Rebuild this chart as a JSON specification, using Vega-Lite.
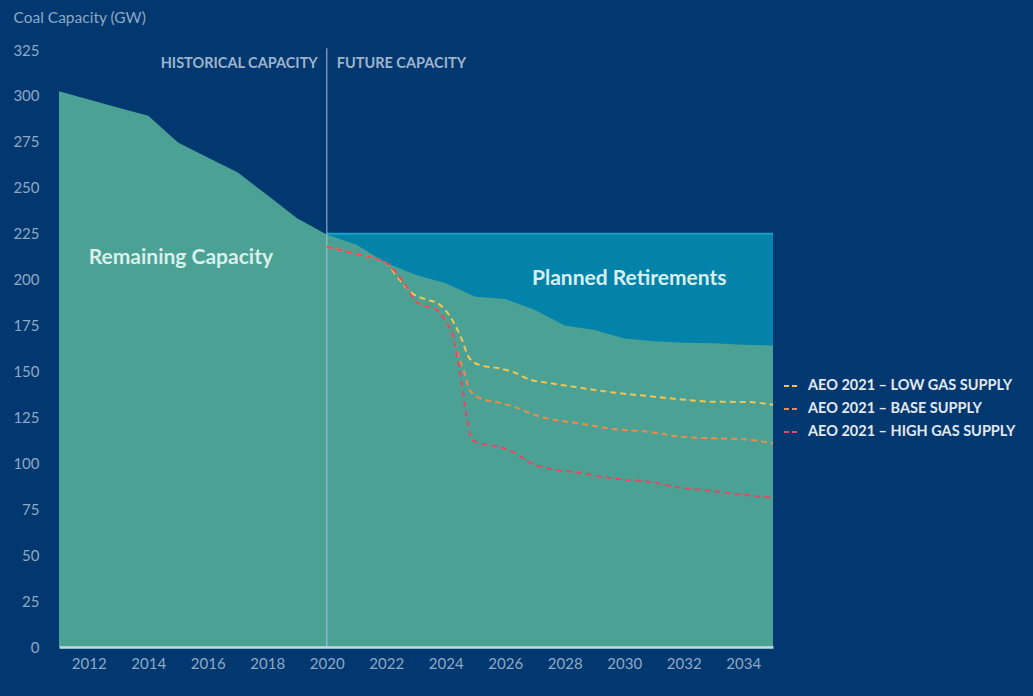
{
  "$schema": "https://vega.github.io/schema/vega-lite/v6.json",
  "width": 714,
  "height": 597,
  "autosize": {"type": "none"},
  "padding": {"left": 59, "top": 50, "right": 260, "bottom": 49},
  "background": "#01386f",
  "config": {
    "view": {"stroke": null},
    "font": "Lato",
    "axis": {"labelFont": "Lato", "labelColor": "#8fa8c6", "labelFontSize": 15, "grid": false, "ticks": false}
  },
  "datasets": {
    "cap": [
      {"year": 2011, "remaining": 302.5}, {"year": 2012, "remaining": 298.1}, {"year": 2013, "remaining": 293.6},
      {"year": 2014, "remaining": 289.2}, {"year": 2015, "remaining": 274.7}, {"year": 2016, "remaining": 266.5},
      {"year": 2017, "remaining": 258.4}, {"year": 2018, "remaining": 246.0}, {"year": 2019, "remaining": 233.4},
      {"year": 2020, "remaining": 224.5}, {"year": 2021, "remaining": 219.0}, {"year": 2022, "remaining": 209.0},
      {"year": 2023, "remaining": 202.5}, {"year": 2024, "remaining": 198.0}, {"year": 2025, "remaining": 190.7},
      {"year": 2026, "remaining": 189.4}, {"year": 2027, "remaining": 183.4}, {"year": 2028, "remaining": 175.0},
      {"year": 2029, "remaining": 172.6}, {"year": 2030, "remaining": 168.0}, {"year": 2031, "remaining": 166.5},
      {"year": 2032, "remaining": 165.6}, {"year": 2033, "remaining": 165.3}, {"year": 2034, "remaining": 164.5},
      {"year": 2035, "remaining": 164.2}
    ],
    "ret": [{"year": 2020, "total": 225}, {"year": 2035, "total": 225}],
    "divider": [{"year": 2020, "bottom": 0, "top": 326}],
    "scen": [
      {"scenario": "AEO 2021 – LOW GAS SUPPLY", "year": 2020, "gw": 217.9},
      {"scenario": "AEO 2021 – LOW GAS SUPPLY", "year": 2021, "gw": 213.9},
      {"scenario": "AEO 2021 – LOW GAS SUPPLY", "year": 2021.7, "gw": 211},
      {"scenario": "AEO 2021 – LOW GAS SUPPLY", "year": 2022, "gw": 208.9},
      {"scenario": "AEO 2021 – LOW GAS SUPPLY", "year": 2022.4, "gw": 201},
      {"scenario": "AEO 2021 – LOW GAS SUPPLY", "year": 2022.8, "gw": 193.4},
      {"scenario": "AEO 2021 – LOW GAS SUPPLY", "year": 2023.4, "gw": 188.9},
      {"scenario": "AEO 2021 – LOW GAS SUPPLY", "year": 2023.75, "gw": 187},
      {"scenario": "AEO 2021 – LOW GAS SUPPLY", "year": 2024.15, "gw": 179.8},
      {"scenario": "AEO 2021 – LOW GAS SUPPLY", "year": 2024.5, "gw": 169},
      {"scenario": "AEO 2021 – LOW GAS SUPPLY", "year": 2024.8, "gw": 157.1},
      {"scenario": "AEO 2021 – LOW GAS SUPPLY", "year": 2025.15, "gw": 153.5},
      {"scenario": "AEO 2021 – LOW GAS SUPPLY", "year": 2025.8, "gw": 151.7},
      {"scenario": "AEO 2021 – LOW GAS SUPPLY", "year": 2026.3, "gw": 149.5},
      {"scenario": "AEO 2021 – LOW GAS SUPPLY", "year": 2026.8, "gw": 145.7},
      {"scenario": "AEO 2021 – LOW GAS SUPPLY", "year": 2027.4, "gw": 143.9},
      {"scenario": "AEO 2021 – LOW GAS SUPPLY", "year": 2028.5, "gw": 141.2},
      {"scenario": "AEO 2021 – LOW GAS SUPPLY", "year": 2029.6, "gw": 138.6},
      {"scenario": "AEO 2021 – LOW GAS SUPPLY", "year": 2030.8, "gw": 136.6},
      {"scenario": "AEO 2021 – LOW GAS SUPPLY", "year": 2031.9, "gw": 134.8},
      {"scenario": "AEO 2021 – LOW GAS SUPPLY", "year": 2033, "gw": 133.5},
      {"scenario": "AEO 2021 – LOW GAS SUPPLY", "year": 2034.1, "gw": 133.4},
      {"scenario": "AEO 2021 – LOW GAS SUPPLY", "year": 2035, "gw": 131.9},
      {"scenario": "AEO 2021 – BASE SUPPLY", "year": 2020, "gw": 217.9},
      {"scenario": "AEO 2021 – BASE SUPPLY", "year": 2021, "gw": 213.9},
      {"scenario": "AEO 2021 – BASE SUPPLY", "year": 2021.7, "gw": 211},
      {"scenario": "AEO 2021 – BASE SUPPLY", "year": 2022, "gw": 208.9},
      {"scenario": "AEO 2021 – BASE SUPPLY", "year": 2022.6, "gw": 198},
      {"scenario": "AEO 2021 – BASE SUPPLY", "year": 2023, "gw": 188},
      {"scenario": "AEO 2021 – BASE SUPPLY", "year": 2023.4, "gw": 185.3},
      {"scenario": "AEO 2021 – BASE SUPPLY", "year": 2023.7, "gw": 183.5},
      {"scenario": "AEO 2021 – BASE SUPPLY", "year": 2024, "gw": 177.5},
      {"scenario": "AEO 2021 – BASE SUPPLY", "year": 2024.2, "gw": 171},
      {"scenario": "AEO 2021 – BASE SUPPLY", "year": 2024.4, "gw": 159.9},
      {"scenario": "AEO 2021 – BASE SUPPLY", "year": 2024.6, "gw": 150.8},
      {"scenario": "AEO 2021 – BASE SUPPLY", "year": 2024.8, "gw": 139.9},
      {"scenario": "AEO 2021 – BASE SUPPLY", "year": 2025.15, "gw": 135.4},
      {"scenario": "AEO 2021 – BASE SUPPLY", "year": 2025.8, "gw": 133},
      {"scenario": "AEO 2021 – BASE SUPPLY", "year": 2026.3, "gw": 130.8},
      {"scenario": "AEO 2021 – BASE SUPPLY", "year": 2027, "gw": 126.3},
      {"scenario": "AEO 2021 – BASE SUPPLY", "year": 2027.4, "gw": 124.5},
      {"scenario": "AEO 2021 – BASE SUPPLY", "year": 2028.5, "gw": 121.8},
      {"scenario": "AEO 2021 – BASE SUPPLY", "year": 2029.6, "gw": 118.7},
      {"scenario": "AEO 2021 – BASE SUPPLY", "year": 2030.8, "gw": 117.2},
      {"scenario": "AEO 2021 – BASE SUPPLY", "year": 2031.9, "gw": 114.5},
      {"scenario": "AEO 2021 – BASE SUPPLY", "year": 2033, "gw": 113.6},
      {"scenario": "AEO 2021 – BASE SUPPLY", "year": 2033.9, "gw": 113.2},
      {"scenario": "AEO 2021 – BASE SUPPLY", "year": 2035, "gw": 110.9},
      {"scenario": "AEO 2021 – HIGH GAS SUPPLY", "year": 2020, "gw": 217.9},
      {"scenario": "AEO 2021 – HIGH GAS SUPPLY", "year": 2021, "gw": 213.9},
      {"scenario": "AEO 2021 – HIGH GAS SUPPLY", "year": 2021.7, "gw": 211},
      {"scenario": "AEO 2021 – HIGH GAS SUPPLY", "year": 2022, "gw": 208.9},
      {"scenario": "AEO 2021 – HIGH GAS SUPPLY", "year": 2022.6, "gw": 198},
      {"scenario": "AEO 2021 – HIGH GAS SUPPLY", "year": 2023, "gw": 188},
      {"scenario": "AEO 2021 – HIGH GAS SUPPLY", "year": 2023.4, "gw": 185.3},
      {"scenario": "AEO 2021 – HIGH GAS SUPPLY", "year": 2023.7, "gw": 183.5},
      {"scenario": "AEO 2021 – HIGH GAS SUPPLY", "year": 2024, "gw": 177.1},
      {"scenario": "AEO 2021 – HIGH GAS SUPPLY", "year": 2024.25, "gw": 169},
      {"scenario": "AEO 2021 – HIGH GAS SUPPLY", "year": 2024.5, "gw": 147},
      {"scenario": "AEO 2021 – HIGH GAS SUPPLY", "year": 2024.7, "gw": 125.4},
      {"scenario": "AEO 2021 – HIGH GAS SUPPLY", "year": 2024.9, "gw": 112.7},
      {"scenario": "AEO 2021 – HIGH GAS SUPPLY", "year": 2025.4, "gw": 110},
      {"scenario": "AEO 2021 – HIGH GAS SUPPLY", "year": 2025.8, "gw": 109},
      {"scenario": "AEO 2021 – HIGH GAS SUPPLY", "year": 2026.3, "gw": 105.8},
      {"scenario": "AEO 2021 – HIGH GAS SUPPLY", "year": 2027, "gw": 99.1},
      {"scenario": "AEO 2021 – HIGH GAS SUPPLY", "year": 2027.4, "gw": 97.3},
      {"scenario": "AEO 2021 – HIGH GAS SUPPLY", "year": 2028.5, "gw": 94.9},
      {"scenario": "AEO 2021 – HIGH GAS SUPPLY", "year": 2029.6, "gw": 91.8},
      {"scenario": "AEO 2021 – HIGH GAS SUPPLY", "year": 2030.8, "gw": 90},
      {"scenario": "AEO 2021 – HIGH GAS SUPPLY", "year": 2031.9, "gw": 86.7},
      {"scenario": "AEO 2021 – HIGH GAS SUPPLY", "year": 2033, "gw": 84.9},
      {"scenario": "AEO 2021 – HIGH GAS SUPPLY", "year": 2034.1, "gw": 82.7},
      {"scenario": "AEO 2021 – HIGH GAS SUPPLY", "year": 2035, "gw": 81.3}
    ],
    "headerLeft": [{"year": 2020, "gw": 317.4, "label": "HISTORICAL CAPACITY"}],
    "headerRight": [{"year": 2020, "gw": 317.4, "label": "FUTURE CAPACITY"}],
    "areaLabels": [
      {"year": 2012, "gw": 211.8, "label": "Remaining Capacity"},
      {"year": 2026.9, "gw": 200.3, "label": "Planned Retirements"}
    ]
  },
  "layer": [
    {
      "data": {"name": "ret"},
      "mark": {"type": "area", "color": "#0383a9", "opacity": 1, "line": {"color": "#17a2c4", "strokeWidth": 2}},
      "encoding": {
        "x": {"field": "year", "type": "quantitative", "scale": {"domain": [2011, 2035], "nice": false, "zero": false},
              "axis": {"values": [2012, 2014, 2016, 2018, 2020, 2022, 2024, 2026, 2028, 2030, 2032, 2034], "format": "d", "title": null,
                       "domainColor": "#c5dbe0", "domainWidth": 2.5, "labelPadding": 9, "zindex": 1, "labelFlush": false}},
        "y": {"field": "total", "type": "quantitative", "scale": {"domain": [0, 325], "nice": false},
              "axis": {"values": [0, 25, 50, 75, 100, 125, 150, 175, 200, 225, 250, 275, 300, 325], "domain": false, "labelPadding": 20,
                       "title": "Coal Capacity (GW)", "titleAngle": 0, "titleAlign": "left", "titleBaseline": "middle",
                       "titleX": -46, "titleY": -33, "titleColor": "#8fa8c6", "titleFont": "Lato", "titleFontSize": 15.5, "titleFontWeight": "normal"}}
      }
    },
    {
      "data": {"name": "cap"},
      "mark": {"type": "area", "color": "#4ba294", "opacity": 1},
      "encoding": {
        "x": {"field": "year", "type": "quantitative"},
        "y": {"field": "remaining", "type": "quantitative"}
      }
    },
    {
      "data": {"name": "divider"},
      "mark": {"type": "rule", "color": "#a9c3da", "opacity": 0.65, "strokeWidth": 1.5},
      "encoding": {
        "x": {"field": "year", "type": "quantitative"},
        "y": {"field": "bottom", "type": "quantitative"},
        "y2": {"field": "top"}
      }
    },
    {
      "data": {"name": "scen"},
      "transform": [{"filter": "datum.scenario === 'AEO 2021 – LOW GAS SUPPLY'"}],
      "mark": {"type": "line", "interpolate": "monotone", "strokeWidth": 2, "strokeDash": [6, 4]},
      "encoding": {
        "x": {"field": "year", "type": "quantitative"},
        "y": {"field": "gw", "type": "quantitative"},
        "color": {"field": "scenario", "type": "nominal",
                  "scale": {"domain": ["AEO 2021 – LOW GAS SUPPLY", "AEO 2021 – BASE SUPPLY", "AEO 2021 – HIGH GAS SUPPLY"],
                            "range": ["#f6c44f", "#ef8a4a", "#e04a63"]},
                  "legend": {"orient": "none", "legendX": 724, "legendY": 328, "title": null, "symbolType": "stroke",
                             "symbolStrokeWidth": 2, "symbolDash": [5, 3], "symbolSize": 196, "labelFont": "Lato",
                             "labelFontSize": 14.5, "labelFontWeight": "bold", "labelLimit": 400, "labelColor": "#e3e8ef", "labelOffset": 9, "rowPadding": 8}}
      }
    },
    {
      "data": {"name": "scen"},
      "transform": [{"filter": "datum.scenario === 'AEO 2021 – BASE SUPPLY'"}],
      "mark": {"type": "line", "interpolate": "monotone", "strokeWidth": 2, "strokeDash": [6, 4]},
      "encoding": {
        "x": {"field": "year", "type": "quantitative"},
        "y": {"field": "gw", "type": "quantitative"},
        "color": {"field": "scenario", "type": "nominal"}
      }
    },
    {
      "data": {"name": "scen"},
      "transform": [{"filter": "datum.scenario === 'AEO 2021 – HIGH GAS SUPPLY'"}],
      "mark": {"type": "line", "interpolate": "monotone", "strokeWidth": 2, "strokeDash": [6, 4]},
      "encoding": {
        "x": {"field": "year", "type": "quantitative"},
        "y": {"field": "gw", "type": "quantitative"},
        "color": {"field": "scenario", "type": "nominal"}
      }
    },
    {
      "data": {"name": "headerLeft"},
      "mark": {"type": "text", "align": "right", "baseline": "middle", "dx": -9, "font": "Lato", "fontSize": 14.5, "fontWeight": "bold", "color": "#9fb4cc"},
      "encoding": {
        "x": {"field": "year", "type": "quantitative"},
        "y": {"field": "gw", "type": "quantitative"},
        "text": {"field": "label"}
      }
    },
    {
      "data": {"name": "headerRight"},
      "mark": {"type": "text", "align": "left", "baseline": "middle", "dx": 10, "font": "Lato", "fontSize": 14.5, "fontWeight": "bold", "color": "#9fb4cc"},
      "encoding": {
        "x": {"field": "year", "type": "quantitative"},
        "y": {"field": "gw", "type": "quantitative"},
        "text": {"field": "label"}
      }
    },
    {
      "data": {"name": "areaLabels"},
      "mark": {"type": "text", "align": "left", "baseline": "middle", "font": "Lato", "fontSize": 21, "fontWeight": "bold", "color": "#d8efec"},
      "encoding": {
        "x": {"field": "year", "type": "quantitative"},
        "y": {"field": "gw", "type": "quantitative"},
        "text": {"field": "label"}
      }
    }
  ]
}
